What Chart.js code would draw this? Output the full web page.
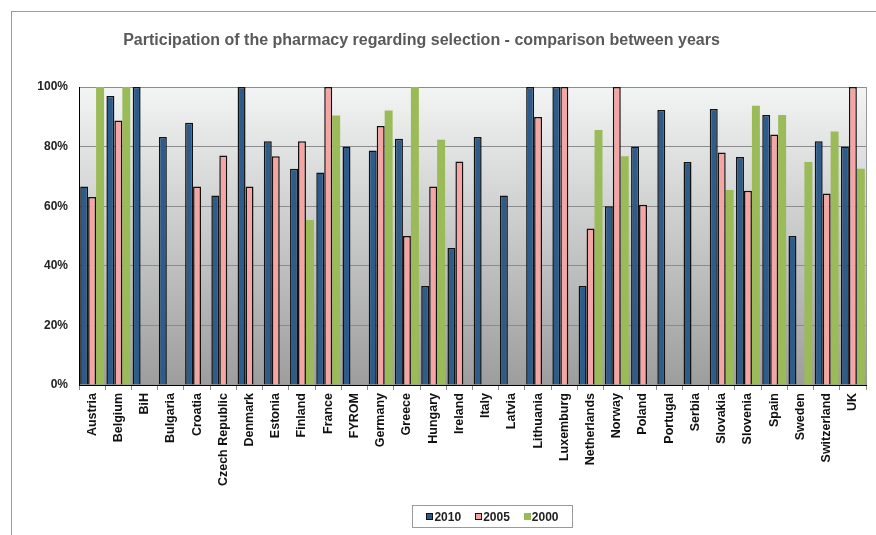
<!DOCTYPE html>
<html>
<head>
<meta charset="utf-8">
<script src="https://cdn.jsdelivr.net/npm/chart.js@4/dist/chart.umd.min.js"></script>
<style>
  html, body { margin: 0; padding: 0; background: #fff; overflow: hidden; width: 876px; height: 535px; }
  #wrap { position: relative; width: 876px; height: 535px; }
  #frame { position: absolute; left: 11px; top: 11px; width: 900px; height: 600px; border: 1px solid #9a9a9a; box-sizing: border-box; }
  #title { position: absolute; left: 0; top: 30px; width: 843px; text-align: center; font: bold 16px "Liberation Sans", Arial, sans-serif; color: #595959; line-height: 19px; }
  canvas { position: absolute; left: 0; top: 0; }
  #legend { position: absolute; left: 412px; top: 505px; width: 161px; height: 23px; border: 1px solid #9a9a9a; box-sizing: border-box; display: flex; align-items: center; justify-content: center; font: bold 12px "Liberation Sans", Arial, sans-serif; color: #222; }
  #legend .item { display: flex; align-items: center; margin: 0 7px; }
  #legend .sw { width: 7px; height: 7px; margin-right: 1px; box-sizing: border-box; }
</style>
</head>
<body>
<div id="wrap">
  <div id="frame"></div>
  <canvas id="c" width="876" height="535"></canvas>
  <div id="title">Participation of the pharmacy regarding selection - comparison between years</div>
  <div id="legend"></div>
</div>
<script>
const categories = ["Austria","Belgium","BiH","Bulgaria","Croatia","Czech Republic","Denmark","Estonia","Finland","France","FYROM","Germany","Greece","Hungary","Ireland","Italy","Latvia","Lithuania","Luxemburg","Netherlands","Norway","Poland","Portugal","Serbia","Slovakia","Slovenia","Spain","Sweden","Switzerland","UK"];
const seriesLabels = ["2010","2005","2000"];
const values2010 = [66.6, 97.0, 100, 83.2, 88.0, 63.6, 100, 81.8, 72.6, 71.3, 80.0, 78.7, 82.6, 33.2, 46.0, 83.2, 63.6, 100, 100, 33.2, 60.0, 80.0, 92.3, 74.8, 92.6, 76.5, 90.6, 50.0, 81.8, 80.0];
const values2005 = [63.1, 88.8, null, null, 66.6, 77.0, 66.6, 76.8, 81.8, 100, null, 86.9, 50.0, 66.6, 75.0, null, null, 89.9, 100, 52.5, 100, 60.5, null, null, 78.0, 65.2, 84.1, null, 64.3, 100];
const values2000 = [100, 100, null, null, null, null, null, null, 55.4, 90.4, null, 92.1, 100, 82.3, null, null, null, null, null, 85.6, 76.8, null, null, null, 65.4, 93.7, 90.6, 74.8, 85.1, 72.6];
const yTicks = [0, 20, 40, 60, 80, 100];

const colors = ["#2D5B8A", "#F4A5A4", "#9BBB59"];
const borders = ["#111111", "#111111", "#9BBB59"];
const borderWidths = [1.5, 1.5, 0];
const allValues = [values2010, values2005, values2000];

const bgPlugin = {
  id: 'plotBg',
  beforeDraw(chart) {
    const a = chart.chartArea, ctx = chart.ctx;
    const g = ctx.createLinearGradient(0, a.top, 0, a.bottom);
    g.addColorStop(0, '#f3f4f4');
    g.addColorStop(1, '#9d9d9d');
    ctx.save();
    ctx.fillStyle = g;
    ctx.fillRect(a.left, a.top, a.right - a.left, a.bottom - a.top);
    ctx.restore();
  },
  beforeDatasetsDraw(chart) {
    const a = chart.chartArea, ctx = chart.ctx;
    ctx.save();
    ctx.strokeStyle = '#9a9a9a';
    ctx.lineWidth = 1;
    ctx.beginPath();
    ctx.moveTo(Math.round(a.right) + 0.5, a.top);
    ctx.lineTo(Math.round(a.right) + 0.5, a.bottom);
    ctx.stroke();
    ctx.restore();
  }
};

const chart = new Chart(document.getElementById('c'), {
  type: 'bar',
  data: {
    labels: categories,
    datasets: seriesLabels.map((lab, i) => ({
      label: lab,
      data: allValues[i],
      backgroundColor: colors[i],
      borderColor: borders[i],
      borderWidth: borderWidths[i],
      borderSkipped: 'bottom',
      categoryPercentage: 0.91,
      barPercentage: 1.0
    }))
  },
  options: {
    responsive: false,
    animation: false,
    layout: { padding: { left: 0, right: 10, top: 87, bottom: 0 } },
    plugins: {
      legend: { display: false },
      title: { display: false },
      tooltip: { enabled: false }
    },
    scales: {
      x: {
        offset: true,
        grid: { display: true, drawOnChartArea: false, drawTicks: true, tickLength: 5, color: '#8a8a8a', offset: true },
        border: { display: true, color: '#000000', width: 1 },
        ticks: {
          autoSkip: false, maxRotation: 90, minRotation: 90, padding: 3,
          color: '#111111',
          font: { family: '"Liberation Sans", Arial, sans-serif', size: 12.5, weight: 'bold' }
        },
        afterFit(scale) { scale.height = 150; }
      },
      y: {
        min: 0, max: 100,
        afterBuildTicks(scale) { scale.ticks = yTicks.map(v => ({ value: v })); },
        grid: { color: '#8c8c8c', drawTicks: false, lineWidth: 1 },
        border: { display: true, color: '#000000', width: 1 },
        ticks: {
          padding: 11,
          color: '#222222',
          font: { family: '"Liberation Sans", Arial, sans-serif', size: 12, weight: 'bold' },
          callback: v => v + '%'
        },
        afterFit(scale) { scale.width = 79; }
      }
    }
  },
  plugins: [bgPlugin]
});

const leg = document.getElementById('legend');
seriesLabels.forEach((lab, i) => {
  const it = document.createElement('span');
  it.className = 'item';
  const sw = document.createElement('span');
  sw.className = 'sw';
  sw.style.background = colors[i];
  sw.style.border = borderWidths[i] ? '1px solid #111' : 'none';
  const t = document.createElement('span');
  t.textContent = lab;
  it.appendChild(sw); it.appendChild(t);
  leg.appendChild(it);
});
</script>
</body>
</html>
